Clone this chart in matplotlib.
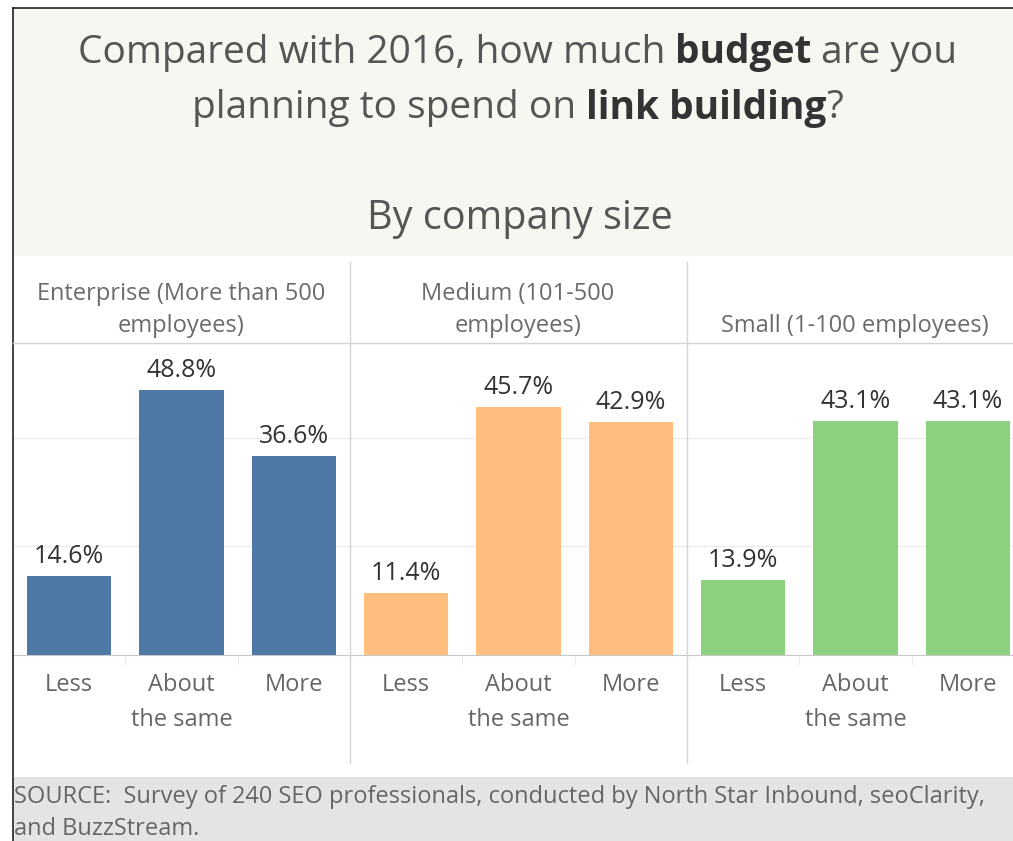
import matplotlib
matplotlib.use("Agg")
import matplotlib.pyplot as plt
from matplotlib.patches import Rectangle
from matplotlib.lines import Line2D

plt.rcParams['font.family'] = ['Open Sans', 'DejaVu Sans']

# survey answers, percent of respondents
groups = ["Enterprise (More than 500\nemployees)", "Medium (101-500\nemployees)",
          "Small (1-100 employees)"]
categories = ["Less", "About\nthe same", "More"]
enterprise = [14.6, 48.8, 36.6]
medium = [11.4, 45.7, 42.9]
small = [13.9, 43.1, 43.1]
colors = ["#4e79a7", "#ffbe7d", "#8cd17d"]

W, H = 1013, 841
fig = plt.figure(figsize=(W / 100, H / 100), dpi=100)
fig.patch.set_facecolor("white")


def fx(x):
    return x / W


def fy(y):
    return 1 - y / H


def rect(x0, y0, x1, y1, color):
    fig.patches.append(Rectangle((fx(x0), fy(y1)), fx(x1) - fx(x0), fy(y0) - fy(y1),
                                 transform=fig.transFigure, facecolor=color,
                                 edgecolor="none", zorder=0))


def line(xs, ys, color, lw=1.0):
    fig.lines.append(Line2D([fx(x) for x in xs], [fy(y) for y in ys],
                            transform=fig.transFigure, color=color, lw=lw, zorder=3))


def rich_line(y, parts, size):
    # lay out pieces of mixed weight on one centred line
    renderer = fig.canvas.get_renderer()
    texts = []
    for s, bold in parts:
        t = fig.text(0, fy(y), s, fontsize=size, va="center", ha="left",
                     fontweight="bold" if bold else "normal",
                     color="#333333" if bold else "#555555")
        texts.append(t)
    widths = [t.get_window_extent(renderer).width for t in texts]
    x = (W - sum(widths)) / 2 + 11
    for t, w in zip(texts, widths):
        t.set_x(fx(x))
        x += w


# header and footer bands
rect(13, 8, W, 256, "#f5f7f0")
rect(13, 777, W, H, "#e4e4e4")
line([13, 13], [8, H], "#222222", 1.2)
line([13, W], [8, 8], "#222222", 1.2)

rich_line(53, [("Compared with 2016, how much ", False), ("budget", True),
               (" are you", False)], 28)
rich_line(108, [("planning to spend on ", False), ("link building", True),
                ("?", False)], 28)
fig.text(fx(520), fy(219), "By company size", fontsize=28.5, ha="center", va="center",
         color="#555555")

# panel frame lines
line([13, W], [343, 343], "#d4d4d4", 1.0)
for xd in [350, 687]:
    line([xd, xd], [262, 763], "#d4d4d4", 1.0)

panel_w = 337
base, top = 655, 343
for i, (name, vals) in enumerate(zip(groups, [enterprise, medium, small])):
    left = 13 + i * panel_w
    ax = fig.add_axes([fx(left), fy(base), panel_w / W, (base - top) / H])
    ax.set_facecolor("none")
    ax.bar(range(3), vals, width=0.75, color=colors[i], zorder=2)
    ax.set_xlim(-0.5, 2.5)
    ax.set_ylim(0, 57.5)
    ax.set_yticks([20, 40])
    ax.yaxis.grid(True, color="#ececec", lw=1.0, zorder=0)
    ax.tick_params(axis="y", left=False, labelleft=False)
    for s in ax.spines.values():
        s.set_visible(False)
    ax.spines["bottom"].set_visible(True)
    ax.spines["bottom"].set_color("#c8c8c8")
    ax.set_xticks(range(3))
    ax.set_xticklabels(categories, fontsize=17, color="#666666", linespacing=1.6)
    ax.set_xticks([0.5, 1.5], minor=True)
    ax.tick_params(axis="x", which="major", length=0, pad=13)
    ax.tick_params(axis="x", which="minor", length=7, color="#e6e6e6")
    for xi, v in enumerate(vals):
        ax.annotate(f"{v:.1f}%", (xi, v), xytext=(0, 5), textcoords="offset points",
                    ha="center", va="bottom", fontsize=18, color="#333333")
    cx = left + 168
    if "\n" in name:
        fig.text(fx(cx), fy(310), name, fontsize=17, ha="center", va="center",
                 color="#6b6b6b", linespacing=1.45)
    else:
        fig.text(fx(cx), fy(326), name, fontsize=17, ha="center", va="center",
                 color="#6b6b6b")

fig.text(fx(14), fy(797), "SOURCE:  Survey of 240 SEO professionals, conducted by North Star "
         "Inbound, seoClarity,", fontsize=17, ha="left", va="center", color="#666666")
fig.text(fx(14), fy(829), "and BuzzStream.", fontsize=17, ha="left", va="center",
         color="#666666")

fig.savefig("out.png", dpi=100)
